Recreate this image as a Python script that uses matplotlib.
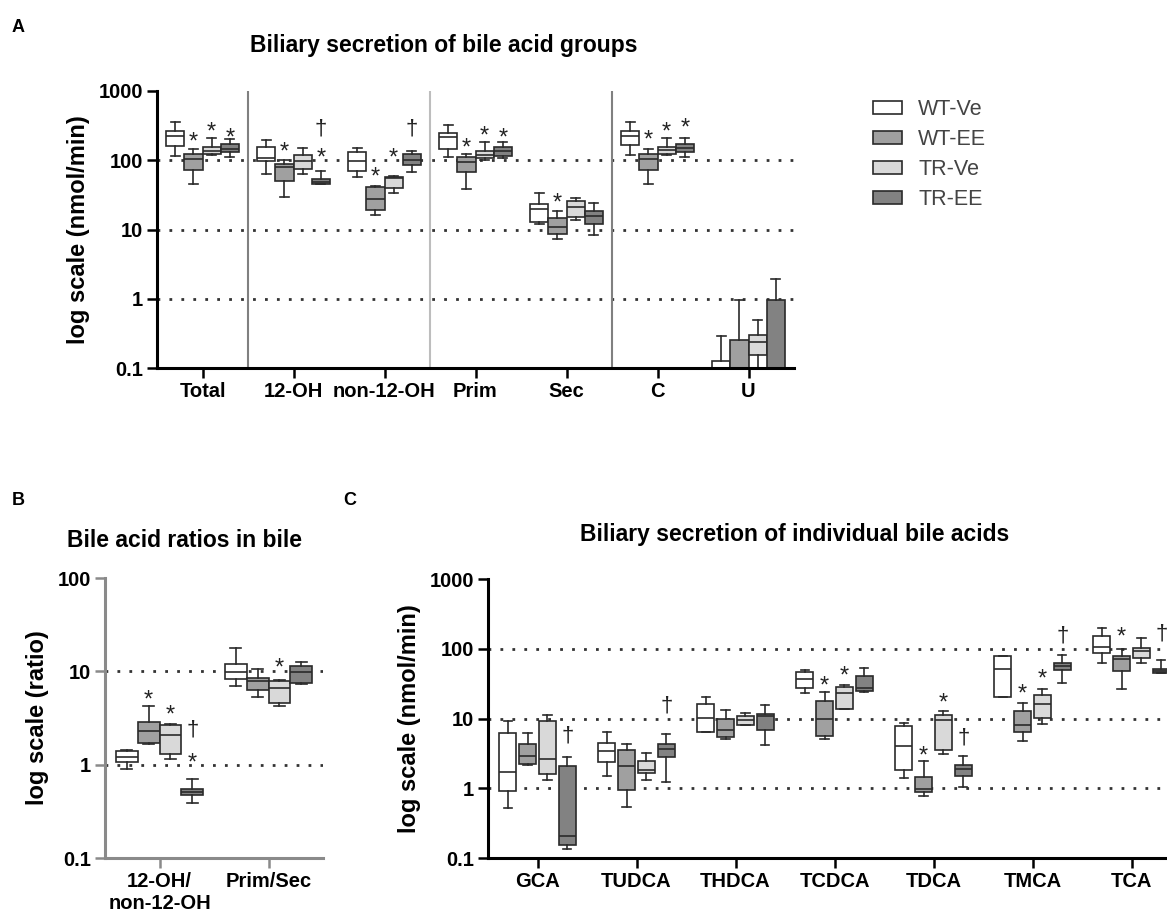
import numpy as np
import matplotlib
matplotlib.use('Agg')
import matplotlib.pyplot as plt
from matplotlib.patches import Patch

plt.rcParams['font.family'] = ['Liberation Sans', 'DejaVu Sans']

series = ['WT-Ve', 'WT-EE', 'TR-Ve', 'TR-EE']
series_colors = ['#ffffff', '#a0a0a0', '#d9d9d9', '#828282']

# five-number summaries per group: [whisker low, q1, median, q3, whisker high]
# A - bile acid groups
groups_a = ['Total', '12-OH', 'non-12-OH', 'Prim', 'Sec', 'C', 'U']
a_wt_ve = [[117, 163, 222, 268, 353], [64, 97, 108, 157, 199], [57, 71, 97, 130, 151],
           [110, 143, 215, 245, 324], [12.1, 12.8, 19.9, 23.4, 33.8], [119, 168, 222, 268, 353],
           [0.01, 0.01, 0.05, 0.125, 0.29]]
a_wt_ee = [[46, 73, 104, 123, 143], [29, 51, 79, 87, 101], [16, 19, 28, 41, 43],
           [39, 67, 94, 110, 123], [7.3, 8.7, 10.8, 14.6, 18.4], [46, 73, 104, 123, 143],
           [0.01, 0.01, 0.05, 0.256, 0.95]]
a_tr_ve = [[119, 123, 138, 157, 207], [64, 75, 99, 121, 151], [34, 40, 55, 57, 60],
           [101, 108, 121, 138, 186], [13.5, 15, 21, 25.4, 28.3], [119, 123, 141, 157, 207],
           [0.08, 0.152, 0.237, 0.30, 0.50]]
a_tr_ee = [[110, 130, 146, 172, 203], [45, 46, 48, 54, 71], [67, 84, 101, 123, 138],
           [107, 117, 138, 157, 182], [8.4, 12.1, 15.9, 18.4, 24], [110, 130, 151, 172, 207],
           [0.01, 0.01, 0.05, 0.95, 1.9]]
# (group, series, symbol, y)
a_marks = [(0, 1, '*', 240), (0, 2, '*', 327), (0, 3, '*', 274),
           (1, 1, '*', 172), (1, 3, '†', 283), (1, 3, '*', 138),
           (2, 1, '*', 75), (2, 2, '*', 138), (2, 3, '†', 283),
           (3, 1, '*', 192), (3, 2, '*', 292), (3, 3, '*', 274),
           (4, 1, '*', 31),
           (5, 1, '*', 254), (5, 2, '*', 334), (5, 3, '*', 373)]

# B - ratios
groups_b = ['12-OH/\nnon-12-OH', 'Prim/Sec']
b_wt_ve = [[0.906, 1.07, 1.21, 1.40, 1.43], [6.9, 8.35, 9.84, 12.1, 17.9]]
b_wt_ee = [[1.68, 1.71, 2.29, 2.87, 4.2], [5.3, 6.25, 7.87, 8.55, 10.7]]
b_tr_ve = [[1.16, 1.29, 2.06, 2.68, 2.75], [4.25, 4.58, 6.68, 7.87, 8.15]]
b_tr_ee = [[0.392, 0.469, 0.509, 0.553, 0.71], [7.38, 7.57, 9.8, 11.5, 12.6]]
b_marks = [(0, 1, '*', 6.0), (0, 2, '*', 4.15), (0, 3, '†', 2.33), (0, 3, '*', 1.26),
           (1, 2, '*', 13.3)]

# C - individual bile acids
groups_c = ['GCA', 'TUDCA', 'THDCA', 'TCDCA', 'TDCA', 'TMCA', 'TCA']
c_wt_ve = [[0.52, 0.905, 1.70, 6.2, 9.2], [1.49, 2.39, 3.40, 4.48, 6.4], [6.4, 6.4, 10.2, 16.4, 20.5],
           [23.4, 27, 36.3, 46.8, 49], [1.38, 1.81, 4.0, 7.76, 8.5], [20.2, 20.2, 52, 78.5, 78.5],
           [61.5, 87.7, 107, 152, 196]]
c_wt_ee = [[2.19, 2.23, 2.94, 4.24, 6.2], [0.54, 0.936, 2.07, 3.59, 4.32], [5.0, 5.46, 6.8, 9.7, 13.2],
           [5.0, 5.57, 10, 17.7, 24.1], [0.785, 0.886, 0.98, 1.44, 2.44], [4.73, 6.4, 8.0, 12.7, 16.8],
           [26.7, 47.8, 72, 78.5, 100]]
c_tr_ve = [[1.33, 1.61, 2.67, 9.2, 11.4], [1.33, 1.66, 1.85, 2.44, 3.21], [8.0, 8.2, 9.5, 10.8, 11.8],
           [13.5, 13.8, 23.4, 28.2, 29.8], [3.11, 3.59, 9.46, 11.2, 12.7], [8.4, 10.2, 15.9, 21.6, 26.1],
           [61.5, 74.3, 92.7, 101, 144]]
c_tr_ee = [[0.136, 0.152, 0.205, 2.07, 2.79], [1.23, 2.79, 3.71, 4.32, 5.9], [4.14, 6.95, 10.8, 11.7, 15.5],
           [23.9, 25.2, 27.5, 40.5, 53], [1.04, 1.52, 1.90, 2.19, 2.94], [31.8, 48.9, 56.4, 61.5, 81],
           [44.3, 44.3, 48, 51.7, 68]]
c_marks = [(0, 3, '†', 5.57), (1, 3, '†', 15.0),
           (3, 1, '*', 38.4), (3, 2, '*', 53),
           (4, 1, '*', 3.8), (4, 2, '*', 21.4), (4, 3, '†', 5.27),
           (5, 1, '*', 29.1), (5, 2, '*', 47.8), (5, 3, '†', 152),
           (6, 1, '*', 190), (6, 3, '†', 161)]

offsets = [-0.3, -0.1, 0.1, 0.3]
edge = '#2a2a2a'


def draw_panel(ax, groups, data, marks, width, ylim, grid, ylabel, spine_col='black'):
    for s, stats in enumerate(data):
        bx = [dict(whislo=a, q1=b, med=c, q3=d, whishi=e) for a, b, c, d, e in stats]
        pos = np.arange(len(stats)) + offsets[s]
        ax.bxp(bx, positions=pos, widths=width, capwidths=width * 0.5,
               showfliers=False, patch_artist=True, manage_ticks=False,
               boxprops=dict(facecolor=series_colors[s], edgecolor=edge, linewidth=1.2),
               medianprops=dict(color=edge, linewidth=1.2),
               whiskerprops=dict(color=edge, linewidth=1.2),
               capprops=dict(color=edge, linewidth=1.2))
    for g, s, sym, y in marks:
        if sym == '*':
            ax.annotate(sym, (g + offsets[s], y), xytext=(0, -6), textcoords='offset points',
                        ha='center', va='center', fontsize=17, color='#222')
        else:
            ax.annotate(sym, (g + offsets[s], y), ha='center', va='center',
                        fontsize=16, color='#222')
    for v in grid:
        ax.axhline(v, ls=(0, (1, 3.3)), lw=2, color='#333', zorder=0.5)
    ax.set_yscale('log')
    ax.set_ylim(*ylim)
    ticks = [10.0 ** k for k in range(int(np.log10(ylim[0])), int(np.log10(ylim[1])) + 1)]
    ax.set_yticks(ticks)
    ax.set_yticklabels(['%g' % t for t in ticks])
    ax.yaxis.set_minor_locator(matplotlib.ticker.NullLocator())
    ax.set_xticks(np.arange(len(groups)))
    ax.set_xticklabels(groups)
    ax.set_xlim(-0.5, len(groups) - 0.5)
    for sp in ['top', 'right']:
        ax.spines[sp].set_visible(False)
    for sp in ['left', 'bottom']:
        ax.spines[sp].set_linewidth(2.2)
        ax.spines[sp].set_color(spine_col)
    ax.tick_params(length=7, width=1.8, color=spine_col, pad=3, labelsize=14.5)
    for lab in ax.get_xticklabels() + ax.get_yticklabels():
        lab.set_fontweight('bold')
    ax.set_ylabel(ylabel, fontsize=17, fontweight='bold', labelpad=6)


fig = plt.figure(figsize=(11.67, 9.18), dpi=100)
W, H = 1167, 918

axA = fig.add_axes([157 / W, 1 - 368 / H, 637 / W, 277 / H])
draw_panel(axA, groups_a, [a_wt_ve, a_wt_ee, a_tr_ve, a_tr_ee], a_marks, 0.2,
           (0.1, 1000), [1, 10, 100], 'log scale (nmol/min)')
for xs, c in [(0.5, '#808080'), (2.5, '#bdbdbd'), (4.5, '#808080')]:
    axA.axvline(xs, color=c, lw=1.5, zorder=0.6)

axB = fig.add_axes([105 / W, 1 - 858 / H, 218 / W, 280 / H])
draw_panel(axB, groups_b, [b_wt_ve, b_wt_ee, b_tr_ve, b_tr_ee], b_marks, 0.2,
           (0.1, 100), [1, 10], 'log scale (ratio)', spine_col='#8a8a8a')
axB.tick_params(labelcolor='black')

axC = fig.add_axes([488 / W, 1 - 858 / H, 693 / W, 279 / H])
draw_panel(axC, groups_c, [c_wt_ve, c_wt_ee, c_tr_ve, c_tr_ee], c_marks, 0.17,
           (0.1, 1000), [1, 10, 100], 'log scale (nmol/min)')

# titles and panel letters
fig.text(250 / W, 1 - 52 / H, 'Biliary secretion of bile acid groups', fontsize=16.5,
         fontweight='bold', ha='left', va='baseline')
fig.text(67 / W, 1 - 547 / H, 'Bile acid ratios in bile', fontsize=16.5,
         fontweight='bold', ha='left', va='baseline')
fig.text(580 / W, 1 - 541 / H, 'Biliary secretion of individual bile acids', fontsize=16.5,
         fontweight='bold', ha='left', va='baseline')
for letter, x, y in [('A', 12, 32), ('B', 12, 505), ('C', 343, 505)]:
    fig.text(x / W, 1 - y / H, letter, fontsize=13, fontweight='bold', ha='left', va='baseline')

handles = [Patch(facecolor=c, edgecolor=edge, linewidth=1.2) for c in series_colors]
fig.legend(handles, series, loc='upper left', bbox_to_anchor=(873 / W, 1 - 99 / H),
           frameon=False, fontsize=15.5, labelcolor='#444', handlelength=1.35,
           handleheight=0.6, handletextpad=0.75, labelspacing=0.42,
           borderpad=0, borderaxespad=0)

fig.savefig('out.png', dpi=100)
